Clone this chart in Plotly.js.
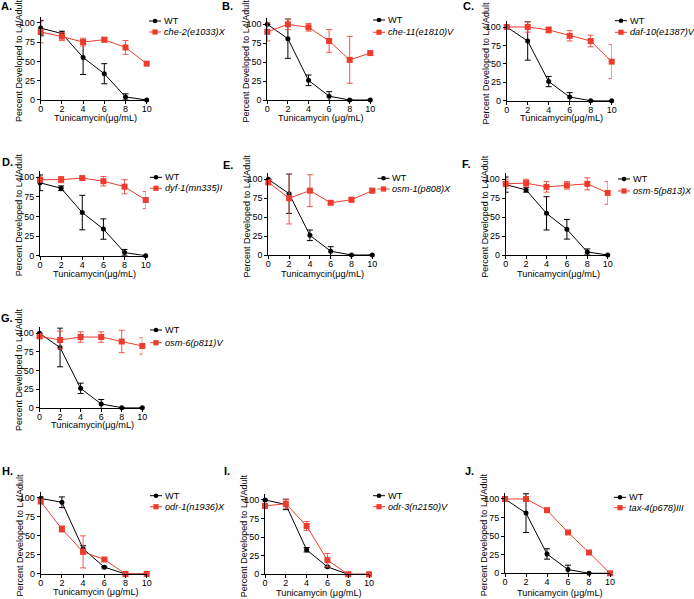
<!DOCTYPE html>
<html><head><meta charset="utf-8">
<script src="https://cdn.plot.ly/plotly-3.0.1.min.js"></script>
<style>html,body{margin:0;padding:0;background:#fff}#chart{width:694px;height:599px}</style>
</head><body><div id="chart"></div>
<script>
// ---------- data ----------
const dose = [0, 2, 4, 6, 8, 10];
const doseTicks = [0, 2, 4, 6, 8, 10];
const pctTicks = [0, 25, 50, 75, 100];
const panelLabels = ['A.', 'B.', 'C.', 'D.', 'E.', 'F.', 'G.', 'H.', 'I.', 'J.'];
const wtName = 'WT';
const mutantNames = ['che-2(e1033)X', 'che-11(e1810)V', 'daf-10(e1387)V', 'dyf-1(mn335)I',
  'osm-1(p808)X', 'osm-5(p813)X', 'osm-6(p811)V', 'odr-1(n1936)X', 'odr-3(n2150)V', 'tax-4(p678)III'];
const xTitles = ['Tunicamycin(μg/mL)', 'Tunicamycin (μg/mL)', 'Tunicamycin(μg/mL)', 'Tunicamycin(μg/mL)',
  'Tunicamycin(μg/mL)', 'Tunicamycin(μg/mL)', 'Tunicamycin(μg/mL)', 'Tunicamycin (μg/mL)',
  'Tunicamycin (μg/mL)', 'Tunicamycin (μg/mL)'];
const yTitle = 'Percent Developed to L4/Adult';

// WT curves
const wt1 = [93, 86, 55, 34, 4, 0];      const wt1Err = [10, 3, 22, 13, 4, 0];   // A, D, F
const wt2 = [100, 81, 26, 5, 0, 0];      const wt2Err = [0, 26, 7, 6, 0, 0];     // B, C, E, G, J
const wtH = [99, 94, 33, 9, 0, 0];       const wtHErr = [2, 7, 4, 1, 0, 0];
const wtI = [100, 94, 33, 10, 0, 0];     const wtIErr = [1, 7, 3, 1, 0, 0];

// mutant curves
const che2 = [88, 82, 75, 78, 68, 47];   const che2Err = [14, 5, 5, 3, 9, 2];
const che11 = [90, 100, 96, 78, 53, 62]; const che11Err = [12, 7, 5, 15, 31, 2];
const daf10 = [100, 100, 96, 88, 81, 53];const daf10Err = [1, 7, 4, 7, 8, 23];
const dyf1 = [97, 97, 99, 95, 88, 71];   const dyf1Err = [3, 4, 1, 6, 9, 11];
const osm1 = [96, 75, 85, 69, 73, 85];   const osm1Err = [3, 34, 21, 2, 3, 3];
const osm5 = [94, 95, 90, 92, 94, 82];   const osm5Err = [6, 5, 7, 5, 8, 15];
const osm6 = [96, 91, 95, 95, 89, 83];   const osm6Err = [3, 12, 7, 7, 15, 11];
const odr1 = [95, 59, 29, 19, 0, 0];     const odr1Err = [3, 4, 21, 1, 0, 0];
const odr3 = [92, 95, 65, 19, 0, 0];     const odr3Err = [3, 6, 6, 9, 0, 0];
const tax4 = [100, 100, 85, 55, 28, 0];  const tax4Err = [0, 0, 0, 0, 0, 0];

const wtSeries = [wt1, wt2, wt2, wt1, wt2, wt1, wt2, wtH, wtI, wt2];
const wtErrs = [wt1Err, wt2Err, wt2Err, wt1Err, wt2Err, wt1Err, wt2Err, wtHErr, wtIErr, wt2Err];
const mutSeries = [che2, che11, daf10, dyf1, osm1, osm5, osm6, odr1, odr3, tax4];
const mutErrs = [che2Err, che11Err, daf10Err, dyf1Err, osm1Err, osm5Err, osm6Err, odr1Err, odr3Err, tax4Err];

// ---------- layout geometry (pixels) ----------
const W = 694, H = 599;
// [x of dose 0, x of dose 10, y of 0%, y of 100%]
const boxes = [
  [40.7, 146.7, 100, 22.7], [267.3, 370.3, 100, 24.3], [506.7, 611.7, 100.7, 27],
  [40, 145.7, 255.7, 177.3], [268.3, 372.3, 255, 179.3], [505.7, 607.7, 255, 179.3],
  [39.5, 142.3, 407.7, 333.3],
  [40.7, 146.7, 574, 497.7], [265, 369, 574.3, 500], [505, 610, 573.3, 499]
];
const xTitleY = [118.3, 117.5, 118.3, 274.5, 274.5, 274.5, 424.8, 591.7, 592.5, 592.5];
// legend key: [line start x, row 1 y, row 2 y]
const keyPos = [[149, 21, 32], [373, 20, 32.3], [615, 20.7, 32.3], [150, 177.3, 188.3], [377.5, 178.3, 189],
  [618, 179, 191], [150, 330, 342.7], [150, 495.7, 506.7], [373, 495.7, 506.7], [614, 497.3, 507.7]];
const labelPos = [[0, 6], [221, 6], [462, 6], [1, 162], [222, 165], [461, 164], [0, 318], [1, 471], [223, 471], [464, 471]];

const RED = '#ef3b2c';
const RED_ERR = '#f15a4d';
const FONT = 'Arial, "Liberation Sans", sans-serif';
const YMAX = 108;
const KEYLEN = 12;

const px = v => v / W;
const py = v => (H - v) / H;

const traces = [];
const layout = {
  width: W, height: H, margin: {l: 0, r: 0, t: 0, b: 0},
  paper_bgcolor: '#fff', plot_bgcolor: 'rgba(0,0,0,0)',
  font: {family: FONT, color: '#000', size: 9},
  showlegend: false,
  annotations: [], shapes: []
};

for (let i = 0; i < 10; i++) {
  const n = i + 1;
  const xa = n === 1 ? 'x' : 'x' + n;
  const ya = n === 1 ? 'y' : 'y' + n;
  const [x0, x1, yb, yt] = boxes[i];
  const ytop = yb - (YMAX / 100) * (yb - yt);

  traces.push({
    x: dose, y: wtSeries[i], name: wtName, type: 'scatter', mode: 'lines+markers',
    xaxis: xa, yaxis: ya, cliponaxis: false,
    line: {color: '#000', width: 1},
    marker: {symbol: 'circle', size: 5, color: '#000'},
    error_y: {type: 'data', array: wtErrs[i], color: '#000', thickness: 1, width: 3}
  });
  traces.push({
    x: dose, y: mutSeries[i], name: mutantNames[i], type: 'scatter', mode: 'lines+markers',
    xaxis: xa, yaxis: ya, cliponaxis: false,
    line: {color: RED, width: 1},
    marker: {symbol: 'square', size: 6, color: RED},
    error_y: {type: 'data', array: mutErrs[i], color: RED_ERR, thickness: 1, width: 3}
  });

  const axCommon = {
    showline: true, linecolor: '#000', linewidth: 1, showgrid: false, zeroline: false,
    ticks: 'outside', ticklen: 3, tickwidth: 1, tickcolor: '#000',
    tickfont: {family: FONT, size: 9, color: '#000'}, automargin: false, fixedrange: true
  };
  layout[n === 1 ? 'xaxis' : 'xaxis' + n] = Object.assign({}, axCommon, {
    domain: [px(x0), px(x1)], range: [0, 10], anchor: ya, ticklabelstandoff: -3,
    tickmode: 'array', tickvals: doseTicks, ticktext: doseTicks.map(String)
  });
  layout[n === 1 ? 'yaxis' : 'yaxis' + n] = Object.assign({}, axCommon, {
    domain: [py(yb), py(ytop)], range: [0, YMAX], anchor: xa,
    tickmode: 'array', tickvals: pctTicks, ticktext: pctTicks.map(String)
  });

  // axis titles
  layout.annotations.push({
    xref: 'paper', yref: 'paper', x: px((x0 + x1) / 2 + 2), y: py(xTitleY[i]),
    xanchor: 'center', yanchor: 'middle', showarrow: false, text: xTitles[i], borderpad: 0,
    font: {family: FONT, size: 9.2, color: '#000'}
  });
  layout.annotations.push({
    xref: 'paper', yref: 'paper', x: px(x0 - 21), y: py((yb + ytop) / 2 + 2),
    xanchor: 'center', yanchor: 'middle', showarrow: false, textangle: -90, text: yTitle, borderpad: 0,
    font: {family: FONT, size: 9, color: '#000'}
  });
  // panel label
  layout.annotations.push({
    xref: 'paper', yref: 'paper', x: px(labelPos[i][0]), y: py(labelPos[i][1]),
    xanchor: 'left', yanchor: 'middle', showarrow: false, text: '<b>' + panelLabels[i] + '</b>', borderpad: 0,
    font: {family: FONT, size: 11, color: '#000'}
  });

  // legend (key line + symbol + text)
  const [lx, r1, r2] = keyPos[i];
  const rows = [[r1, '#000', 'circle', wtName], [r2, RED, 'square', '<i>' + mutantNames[i] + '</i>']];
  rows.forEach(([ry, col, sym, label]) => {
    layout.shapes.push({type: 'line', xref: 'paper', yref: 'paper',
      x0: px(lx), x1: px(lx + KEYLEN), y0: py(ry), y1: py(ry), line: {color: col, width: 1}});
    const h = sym === 'circle' ? 2.3 : 2.6;
    layout.shapes.push({type: sym === 'circle' ? 'circle' : 'rect', xref: 'paper', yref: 'paper',
      x0: px(lx + KEYLEN / 2 - h), x1: px(lx + KEYLEN / 2 + h), y0: py(ry - h), y1: py(ry + h),
      fillcolor: col, line: {width: 0}});
    layout.annotations.push({
      xref: 'paper', yref: 'paper', x: px(lx + KEYLEN + 1.5), y: py(ry),
      xanchor: 'left', yanchor: 'middle', showarrow: false, text: label, borderpad: 0,
      font: {family: FONT, size: 9.2, color: '#000'}
    });
  });
}

Plotly.newPlot('chart', traces, layout, {displayModeBar: false, staticPlot: true});
</script></body></html>
